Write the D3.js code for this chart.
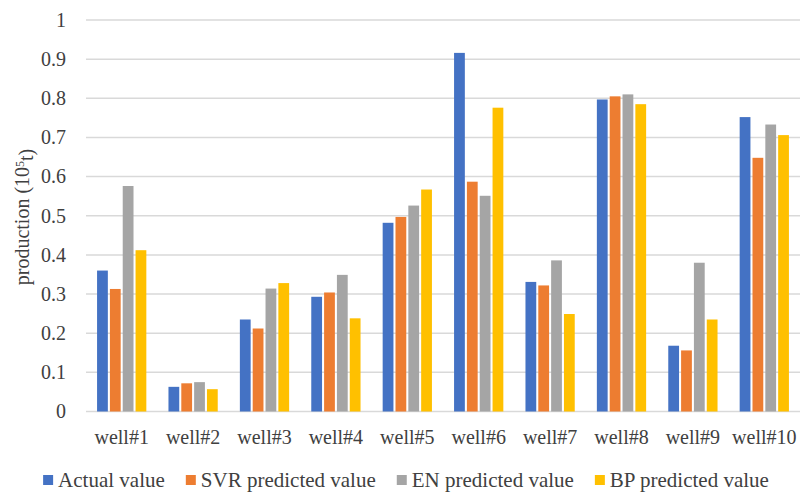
<!DOCTYPE html>
<html>
<head>
<meta charset="utf-8">
<script src="https://cdn.jsdelivr.net/npm/d3@7"></script>
<style>
  body { margin: 0; background: #fff; }
</style>
</head>
<body>
<div class="chart"></div>
<script>
// categories + series
const wells = ["well#1", "well#2", "well#3", "well#4", "well#5", "well#6", "well#7", "well#8", "well#9", "well#10"];
const seriesNames = ["Actual value", "SVR predicted value", "EN predicted value", "BP predicted value"];
const actual = [0.360, 0.063, 0.235, 0.293, 0.482, 0.916, 0.331, 0.797, 0.168, 0.752];
const svr    = [0.313, 0.072, 0.212, 0.304, 0.497, 0.587, 0.322, 0.805, 0.156, 0.648];
const en     = [0.576, 0.075, 0.314, 0.349, 0.526, 0.551, 0.386, 0.810, 0.380, 0.733];
const bp     = [0.412, 0.057, 0.328, 0.238, 0.567, 0.776, 0.249, 0.785, 0.235, 0.706];
const yTicks = [0, 0.1, 0.2, 0.3, 0.4, 0.5, 0.6, 0.7, 0.8, 0.9, 1];
const colors = ["#4472C4", "#ED7D31", "#A5A5A5", "#FFC000"];

const W = 801, H = 492;
const margin = {left: 86, right: 1, top: 20, bottom: 80};
const FONT = "'Liberation Serif', 'DejaVu Serif', 'Times New Roman', serif";

const svg = d3.select(".chart").append("svg")
  .attr("width", W)
  .attr("height", H)
  .attr("font-family", FONT);

const x0 = d3.scaleBand()
  .domain(wells)
  .range([margin.left, W - margin.right])
  .paddingInner(0.31)
  .paddingOuter(0.155);

const x1 = d3.scaleBand()
  .domain(seriesNames)
  .range([0, x0.bandwidth()])
  .paddingInner(0.16);

const y = d3.scaleLinear()
  .domain([0, 1])
  .range([H - margin.bottom - 0.5, margin.top]);

// gridlines
svg.append("g")
  .selectAll("line")
  .data(yTicks)
  .enter().append("line")
  .attr("x1", margin.left)
  .attr("x2", W - margin.right)
  .attr("y1", d => y(d))
  .attr("y2", d => y(d))
  .attr("stroke", "#d9d9d9")
  .attr("stroke-width", 1.5);

// y tick labels
svg.append("g")
  .selectAll("text")
  .data(yTicks)
  .enter().append("text")
  .attr("x", 66)
  .attr("y", d => y(d))
  .attr("dy", "0.34em")
  .attr("text-anchor", "end")
  .attr("font-family", FONT)
  .attr("fill", "#404040")
  .style("font-size", "20px")
  .text(d => d3.format("~g")(d));

// bars
const allSeries = [actual, svr, en, bp];
const groups = svg.append("g")
  .selectAll("g")
  .data(wells)
  .enter().append("g")
  .attr("transform", d => `translate(${x0(d)},0)`);

groups.selectAll("rect")
  .data((d, i) => allSeries.map((s, k) => ({name: seriesNames[k], value: s[i], k: k})))
  .enter().append("rect")
  .attr("x", d => x1(d.name))
  .attr("width", x1.bandwidth())
  .attr("y", d => y(d.value))
  .attr("height", d => y(0) - y(d.value))
  .attr("fill", d => colors[d.k]);

// x labels
svg.append("g")
  .selectAll("text")
  .data(wells)
  .enter().append("text")
  .attr("x", d => x0(d) + x0.bandwidth() / 2)
  .attr("y", 444)
  .attr("text-anchor", "middle")
  .attr("font-family", FONT)
  .attr("fill", "#404040")
  .style("font-size", "20px")
  .text(d => d);

// y axis title
const yt = svg.append("text")
  .attr("transform", "translate(29,217) rotate(-90)")
  .attr("text-anchor", "middle")
  .attr("font-family", FONT)
  .attr("fill", "#404040")
  .style("font-size", "20px");
yt.append("tspan").text("production (10");
yt.append("tspan").attr("dy", "-0.45em").style("font-size", "12px").text("5");
yt.append("tspan").attr("dy", "0.45em").text("t)");

// legend
const legend = svg.append("g");
let lx = 0;
seriesNames.forEach((name, k) => {
  const item = legend.append("g").attr("transform", `translate(${lx},0)`);
  item.append("rect")
    .attr("x", 0).attr("y", -12)
    .attr("width", 10).attr("height", 10)
    .attr("fill", colors[k]);
  const t = item.append("text")
    .attr("x", 15).attr("y", 0)
    .attr("font-family", FONT)
    .attr("fill", "#404040")
    .style("font-size", "21px")
    .text(name);
  lx += 15 + t.node().getComputedTextLength() + 21;
});
const legendW = lx - 21;
legend.attr("transform", `translate(${406 - legendW / 2},487)`);
</script>
</body>
</html>
